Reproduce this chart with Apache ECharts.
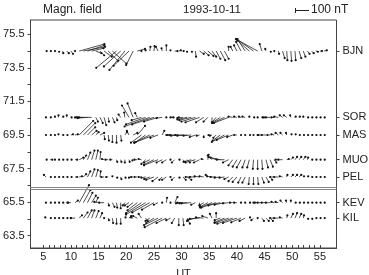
<!DOCTYPE html>
<html>
<head>
<meta charset="utf-8">
<script src="https://cdn.jsdelivr.net/npm/echarts@6/dist/echarts.min.js"></script>
<style>
  html, body { margin: 0; padding: 0; background: #fff; }
  #main { width: 369px; height: 275px; }
</style>
</head>
<body>
<div id="main"></div>
<script>
// sample times (UT minutes)
var times = [5.5, 6.25, 7, 7.75, 8.5, 9.25, 10, 10.75, 11.5, 12.25, 13, 13.75, 14.5, 15.25, 16, 16.75,
  17.5, 18.25, 19, 19.75, 20.5, 21.25, 22, 22.75, 23.5, 24.25, 25, 25.75, 26.5, 27.25, 28, 28.75,
  29.5, 30.25, 31, 31.75, 32.5, 33.25, 34, 34.75, 35.5, 36.25, 37, 37.75, 38.5, 39.25, 40, 40.75,
  41.5, 42.25, 43, 43.75, 44.5, 45.25, 46, 46.75, 47.5, 48.25, 49, 49.75, 50.5, 51.25, 52, 52.75,
  53.5, 54.25, 55, 55.75];

var stations = ['BJN', 'SOR', 'MAS', 'MUO', 'PEL', 'KEV', 'KIL'];
var stationLat = [74.5, 70.55, 69.5, 68.03, 67.0, 65.47, 64.55];

// horizontal field vectors [east, north] in nT
var BJN = [[5,0],[5,0],[5,0],[5,-5],[5,-15],[15,-15],[15,-20],[0,0],[180,50],[155,30],
  [120,40],[85,20],[40,-15],[30,-30],[55,-40],[70,-70],[100,-90],[-145,-120],[-120,-110],[-110,-135],
  [-110,-105],[-50,-100],[55,15],[0,0],[0,5],[5,30],[5,35],[-15,30],[-5,20],[0,40],
  [0,5],[20,0],[15,5],[5,0],[0,-5],[5,-5],[5,-40],[30,-20],[35,-30],[40,-35],
  [30,-40],[30,-55],[35,-65],[30,-55],[0,30],[-15,30],[-20,40],[-35,65],[-55,85],[-85,75],
  [-120,85],[-155,85],[-15,50],[-5,15],[5,-5],[0,0],[5,-20],[15,-50],[5,-65],[5,-70],
  [5,-65],[15,-50],[15,-40],[15,-20],[15,-15],[15,-5],[15,0],[20,5]];
var SOR = [[0,0],[5,0],[5,5],[0,15],[5,5],[0,15],[5,0],[0,0],[-20,0],[-40,0],
  [-70,-5],[-90,0],[15,-30],[20,-40],[15,-55],[5,-30],[15,-35],[5,-20],[-15,20],[-5,35],
  [-50,85],[-40,100],[-15,30],[-70,-20],[-140,-50],[-180,-65],[-155,-50],[-100,-30],[-40,-5],[0,0],
  [20,0],[-30,0],[0,0],[-40,-5],[-70,-15],[-85,-20],[-100,-30],[-100,-35],[-55,-35],[-30,-30],
  [0,-40],[-30,-35],[-55,-35],[-85,-40],[-105,-40],[-30,5],[-20,5],[-15,5],[-20,5],[0,5],
  [5,0],[0,0],[5,0],[-15,0],[-30,0],[-20,0],[-30,5],[-20,15],[-20,15],[-5,15],
  [5,5],[5,5],[0,5],[5,0],[5,0],[5,0],[5,0],[5,0]];
var MAS = [[0,0],[5,0],[5,0],[0,5],[5,0],[5,0],[15,5],[20,5],[100,100],[85,85],
  [55,55],[35,30],[20,20],[30,15],[5,-30],[5,-40],[0,-50],[0,-55],[5,-40],[15,20],
  [-15,30],[30,15],[55,65],[-75,-55],[-70,-50],[-110,-55],[-140,-55],[-55,-20],[15,30],[0,0],
  [-20,0],[-35,0],[-55,-5],[-55,0],[-70,-5],[-55,-5],[-40,-15],[-20,-5],[0,-15],[5,0],
  [-15,-5],[-20,-20],[-55,-40],[-90,-50],[-85,-35],[-40,-15],[-20,0],[0,0],[0,0],[5,0],
  [0,0],[5,0],[-30,0],[-30,0],[-20,0],[-20,5],[-20,15],[-15,15],[-5,15],[5,5],
  [5,5],[5,0],[5,0],[5,0],[5,0],[5,0],[5,0],[5,0]];
var MUO = [[5,0],[15,0],[5,0],[5,0],[5,0],[5,0],[5,0],[15,0],[30,15],[20,30],
  [20,50],[20,65],[15,65],[5,55],[-15,5],[-20,0],[-15,0],[5,-15],[5,-15],[0,-20],
  [5,-15],[-5,-5],[-20,0],[-20,5],[-30,-30],[-40,-20],[-70,-35],[-100,-40],[-40,-20],[-30,-20],
  [0,0],[-20,-20],[5,0],[15,-15],[20,-20],[-55,-15],[-70,-20],[-40,-20],[-15,5],[5,35],
  [-30,30],[-55,20],[-70,15],[-55,0],[-40,-20],[-30,-40],[-30,-50],[-30,-55],[-20,-55],[-15,-55],
  [-5,-65],[0,-65],[5,-65],[15,-55],[20,-50],[15,-20],[-20,0],[-30,0],[15,5],[15,15],
  [15,20],[15,20],[15,20],[5,15],[5,0],[5,0],[5,0],[5,0]];
var PEL = [[-15,15],[5,0],[5,0],[5,0],[5,0],[5,0],[5,0],[15,0],[20,5],[20,20],
  [20,40],[20,55],[15,50],[5,40],[-20,0],[-15,0],[0,5],[5,-5],[5,-15],[5,-5],
  [0,-5],[-15,0],[-20,0],[-20,0],[-30,-5],[-40,-15],[-55,-20],[-40,-30],[-20,-20],[-30,-20],
  [0,0],[-20,-20],[5,-5],[20,-20],[30,-20],[-40,0],[-40,0],[-35,5],[-30,5],[-15,15],
  [-35,5],[-40,0],[-40,-5],[-35,-5],[-30,-15],[-30,-30],[-30,-35],[-20,-40],[-20,-40],[-5,-50],
  [0,-50],[5,-50],[15,-40],[20,-35],[15,-20],[-30,0],[-30,0],[-20,5],[5,15],[15,15],
  [15,15],[15,15],[5,5],[5,5],[5,0],[5,0],[5,0],[5,0]];
var KEV = [[0,0],[5,0],[5,0],[5,0],[5,0],[5,0],[-20,0],[20,15],[70,125],[50,90],
  [35,70],[30,50],[15,35],[-40,5],[-35,0],[5,-20],[15,-30],[5,-35],[0,-40],[-15,-20],
  [-30,-20],[-40,-30],[-70,-55],[-110,-75],[-140,-85],[-125,-70],[-85,-50],[-30,-15],[0,0],[5,35],
  [0,0],[20,40],[-20,-5],[-40,0],[-55,-5],[-70,-5],[-30,-15],[0,-20],[-30,-20],[-55,-30],
  [-85,-35],[-105,-35],[-85,-20],[-70,-15],[-40,-5],[-20,0],[-20,0],[0,0],[0,0],[5,0],
  [0,0],[-20,0],[-30,0],[-30,0],[-30,0],[-20,5],[-20,5],[-15,15],[-5,15],[0,15],
  [5,0],[5,0],[5,0],[5,0],[5,0],[5,0],[5,0],[5,0]];
var KIL = [[-5,5],[5,0],[5,0],[5,0],[5,0],[5,0],[0,0],[-30,0],[20,20],[30,40],
  [30,55],[20,55],[20,50],[15,35],[0,0],[5,-15],[5,-35],[0,-40],[0,-40],[5,5],
  [15,15],[-15,5],[-30,15],[-20,30],[15,-20],[-30,-20],[-55,-35],[-100,-50],[-125,-65],[-70,-35],
  [-30,-15],[-20,-35],[0,-50],[5,-50],[20,-40],[-30,-20],[-55,-15],[-70,-5],[-55,5],[-40,15],
  [-15,30],[0,35],[-40,-15],[-70,-30],[-100,-35],[-110,-40],[-100,-35],[-70,-30],[-40,-20],[5,5],
  [-15,-15],[0,0],[15,-20],[20,-20],[20,-20],[-30,0],[-30,0],[-20,5],[5,20],[15,30],
  [15,35],[15,30],[5,20],[5,-5],[5,-5],[5,0],[5,0],[5,0]];

var vectors = [BJN, SOR, MAS, MUO, PEL, KEV, KIL];
var yLabels = [63.5, 65.5, 67.5, 69.5, 71.5, 73.5, 75.5];
var xLabels = [5, 10, 15, 20, 25, 30, 35, 40, 45, 50, 55];
var scaleNT = 100;          // length of the reference bar
var PX_PER_NT = 14 / 100;   // 100 nT -> 14 px
var splitLat = [66.36, 66.27];

var FONT = 'Liberation Sans, Arial, sans-serif';
var INK = '#222';

var xTicks = [];
for (var m = 5; m <= 55; m++) xTicks.push(m);
var yTicks = [];
for (var v = 63.5; v <= 75.5; v += 1) yTicks.push(v);

function renderItem(params, api) {
  var p = api.coord([api.value(0), api.value(1)]);
  var q = [p[0] + api.value(2) * PX_PER_NT, p[1] - api.value(3) * PX_PER_NT];
  return {
    type: 'group',
    children: [
      { type: 'line', shape: { x1: p[0], y1: p[1], x2: q[0], y2: q[1] },
        style: { stroke: INK, lineWidth: 0.8 } },
      { type: 'circle', shape: { cx: q[0], cy: q[1], r: 1.1 }, style: { fill: '#111' } }
    ]
  };
}

var series = stations.map(function (name, s) {
  var data = times.map(function (t, i) {
    return [t, stationLat[s], vectors[s][i][0], vectors[s][i][1]];
  });
  return {
    name: name,
    type: 'custom',
    renderItem: renderItem,
    encode: { x: 0, y: 1 },
    data: data,
    silent: true,
    animation: false
  };
});

series.push({
  type: 'line',
  data: [],
  silent: true,
  markLine: {
    symbol: ['none', 'none'],
    label: { show: false },
    lineStyle: { color: '#888', width: 1, type: 'solid' },
    data: splitLat.map(function (l) { return { yAxis: l }; })
  }
});

var option = {
  animation: false,
  backgroundColor: '#fff',
  textStyle: { fontFamily: FONT },
  grid: { left: 30.5, right: 32.5, top: 20, bottom: 27, show: true, borderColor: '#444', borderWidth: 1,
    containLabel: false, outerBoundsMode: 'none' },
  xAxis: {
    type: 'value', min: 2.7, max: 58,
    name: 'UT', nameLocation: 'middle', nameGap: 20,
    nameTextStyle: { color: INK, fontSize: 11, fontFamily: FONT },
    axisLine: { show: true, lineStyle: { color: '#444' } },
    axisTick: { show: true, inside: true, length: 3, customValues: xTicks, lineStyle: { color: '#444' } },
    axisLabel: { customValues: xLabels, color: INK, fontSize: 11, fontFamily: FONT, margin: 3 },
    splitLine: { show: false }
  },
  yAxis: [{
    type: 'value', min: 62.77, max: 76.35,
    axisLine: { show: true, lineStyle: { color: '#444' } },
    axisTick: { show: true, length: 3, customValues: yTicks, lineStyle: { color: '#444' } },
    axisLabel: { customValues: yLabels, color: INK, fontSize: 11, fontFamily: FONT, margin: 6,
      formatter: function (v) { return v.toFixed(1); } },
    splitLine: { show: false }
  }, {
    type: 'value', min: 62.77, max: 76.35, position: 'right',
    axisLine: { show: false },
    axisTick: { show: true, length: 3, customValues: stationLat, lineStyle: { color: '#444' } },
    axisLabel: { customValues: stationLat, color: INK, fontSize: 11, fontFamily: FONT, margin: 6,
      formatter: function (v) {
        for (var i = 0; i < stationLat.length; i++) if (Math.abs(stationLat[i] - v) < 1e-6) return stations[i];
        return '';
      } },
    splitLine: { show: false }
  }],
  graphic: [
    { type: 'text', left: 43, top: 4, style: { text: 'Magn. field', fill: INK, font: '12px ' + FONT } },
    { type: 'text', left: 183, top: 4, style: { text: '1993-10-11', fill: INK, font: '11.5px ' + FONT } },
    { type: 'line', shape: { x1: 295, y1: 10.5, x2: 295 + scaleNT * PX_PER_NT, y2: 10.5 }, style: { stroke: INK, lineWidth: 1 } },
    { type: 'line', shape: { x1: 295.5, y1: 8, x2: 295.5, y2: 13 }, style: { stroke: INK, lineWidth: 1 } },
    { type: 'text', left: 311, top: 4, style: { text: scaleNT + ' nT', fill: INK, font: '12px ' + FONT } }
  ],
  series: series
};

var chart = echarts.init(document.getElementById('main'), null, { renderer: 'canvas' });
chart.setOption(option);
</script>
</body>
</html>
